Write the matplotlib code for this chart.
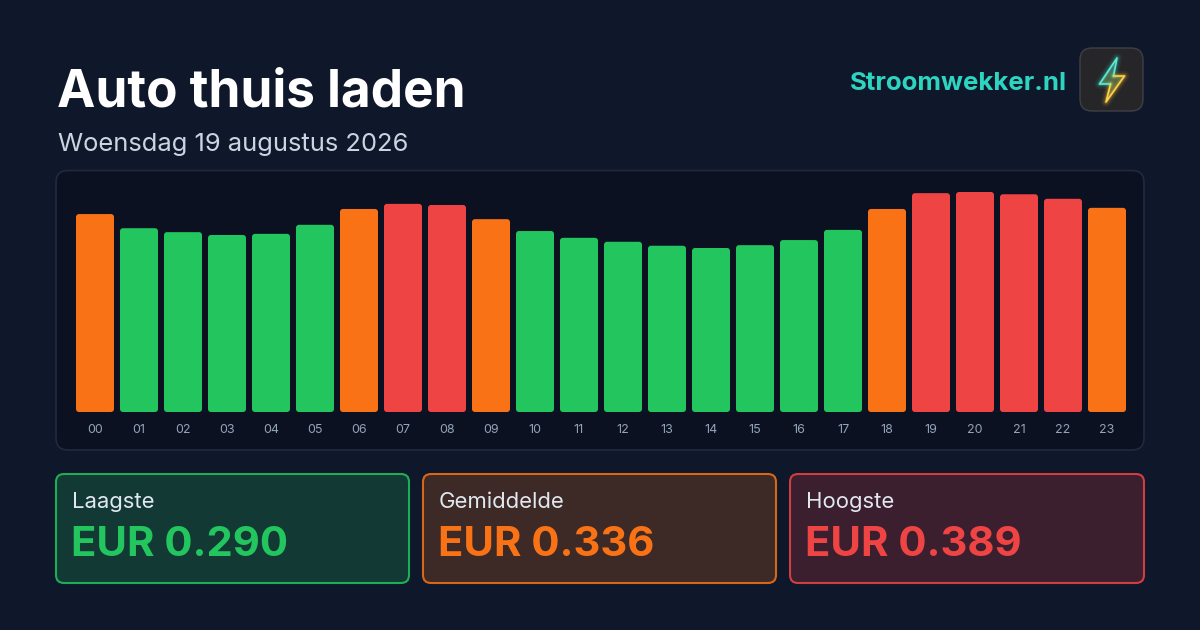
import matplotlib
matplotlib.use("Agg")
import matplotlib.pyplot as plt
from matplotlib.patches import FancyBboxPatch, Polygon
import numpy as np

# ---------------- data ----------------
hours = ["00", "01", "02", "03", "04", "05", "06", "07", "08", "09", "10", "11",
         "12", "13", "14", "15", "16", "17", "18", "19", "20", "21", "22", "23"]
prices = [0.350, 0.325, 0.318, 0.313, 0.315, 0.331, 0.359, 0.368, 0.366, 0.341,
          0.320, 0.308, 0.301, 0.294, 0.290, 0.295, 0.304, 0.322, 0.359, 0.387,
          0.389, 0.385, 0.377, 0.361]
levels = ["mid", "low", "low", "low", "low", "low", "mid", "high", "high", "mid",
          "low", "low", "low", "low", "low", "low", "low", "low", "mid", "high",
          "high", "high", "high", "mid"]
title = "Auto thuis laden"
subtitle = "Woensdag 19 augustus 2026"
brand = "Stroomwekker.nl"
stat_labels = ["Laagste", "Gemiddelde", "Hoogste"]
stat_values = ["EUR 0.290", "EUR 0.336", "EUR 0.389"]

# ---------------- style ----------------
BG = "#0f172a"
PANEL = "#0b1121"
PANEL_EDGE = "#1e293b"
COL = {"low": "#22c55e", "mid": "#f97316", "high": "#ef4444"}
STAT_COLS = [COL["low"], COL["mid"], COL["high"]]
FONT = ["Inter", "DejaVu Sans"]
plt.rcParams["font.family"] = FONT

W, H = 1200, 630
fig = plt.figure(figsize=(W / 100, H / 100), dpi=100, facecolor=BG)

# overlay axes in pixel coordinates
ov = fig.add_axes([0, 0, 1, 1])
ov.set_xlim(0, W)
ov.set_ylim(H, 0)
ov.axis("off")
ov.set_facecolor(BG)

def rbox(x0, y0, x1, y1, r, fc, ec, lw=1.0, z=1, alpha=1.0):
    p = FancyBboxPatch((x0 + r, y0 + r), (x1 - x0) - 2 * r, (y1 - y0) - 2 * r,
                       boxstyle=f"round,pad={r},rounding_size={r}",
                       fc=fc, ec=ec, lw=lw, zorder=z, alpha=alpha)
    ov.add_patch(p)
    return p

# title / subtitle
ov.text(57, 106.7, title, fontsize=37, fontweight="bold", color="white",
        va="baseline", ha="left")
ov.text(57.5, 150.7, subtitle, fontsize=18.4, color="#cbd5e1",
        va="baseline", ha="left")

# brand
ov.text(1067, 90.5, brand, fontsize=18.6, fontweight="bold", color="#2dd4bf",
        va="baseline", ha="right")
rbox(1080, 48, 1143, 111, 12, "#262629", "#3f3f46", lw=1.0, z=2)

# lightning bolt
bolt = np.array([[1117, 58], [1099.5, 84], [1110.5, 84], [1106, 102],
                 [1124.5, 76], [1113.5, 76]])
grad = np.linspace(0, 1, 100)[:, None]
teal = np.array([45, 212, 191]) / 255
amber = np.array([251, 191, 36]) / 255
img = teal[None, None, :] * (1 - grad[:, :, None]) + amber[None, None, :] * grad[:, :, None]
img = np.repeat(img, 2, axis=1)
upper = bolt[[5, 0, 1, 2]]
lower = bolt[[2, 3, 4, 5]]
for lw, a in [(7, 0.07), (4.5, 0.13), (2.6, 0.25)]:
    for seg_pts, c in [(upper, teal), (lower, amber)]:
        ov.plot(seg_pts[:, 0], seg_pts[:, 1], color=c, lw=lw, alpha=a,
                solid_joinstyle="round", solid_capstyle="round", zorder=3)
poly = Polygon(bolt, closed=True, fc="none", ec="none", zorder=3)
ov.add_patch(poly)
im = ov.imshow(img, extent=(1099, 1125, 102, 58), aspect="auto", zorder=3, alpha=0.35)
im.set_clip_path(poly)
ov.plot(upper[:, 0], upper[:, 1], color="#5eead4", lw=1.2, zorder=4,
        solid_joinstyle="round", solid_capstyle="round")
ov.plot(lower[:, 0], lower[:, 1], color="#fcd34d", lw=1.2, zorder=4,
        solid_joinstyle="round", solid_capstyle="round")

# chart panel
rbox(56, 170.5, 1144, 450, 12, PANEL, PANEL_EDGE, lw=1.3, z=1)

# stat boxes
box_x = [(56, 409), (423, 776), (790, 1144)]
for (x0, x1), lab, val, c in zip(box_x, stat_labels, stat_values, STAT_COLS):
    rbox(x0, 474, x1, 583, 8, c, "none", z=1, alpha=0.2)
    rbox(x0, 474, x1, 583, 8, "none", c, lw=1.5, z=2, alpha=0.85)
    ov.text(x0 + 16, 507.5, lab, fontsize=15.9, color="#e2e8f0", va="baseline", ha="left")
    ov.text(x0 + 15, 556.5, val, fontsize=30.1, fontweight="bold", color=c,
            va="baseline", ha="left")

# ---------------- bar chart ----------------
L, R = 73, 1129
base_y, top_y = 412, 192
ymax = max(prices)
ax = fig.add_axes([L / W, 1 - base_y / H, (R - L) / W, (base_y - top_y) / H])
ax.set_facecolor("none")
ax.set_xlim(-0.5, len(hours) - 0.5)
ax.set_ylim(0, ymax)
ax.axis("off")

x = np.arange(len(hours))
bw = 38 / 44
bars = ax.bar(x, prices, width=bw, color=[COL[l] for l in levels])
xu = (len(hours)) / (R - L)            # data units per px (x)
yu = ymax / (base_y - top_y)           # data units per px (y)
r_px = 3
for b in bars:
    b.set_visible(False)
    x0, y0 = b.get_x(), b.get_y()
    w, h = b.get_width(), b.get_height()
    rx = r_px * xu
    asp = yu / xu
    p = FancyBboxPatch((x0 + rx, y0 + rx * asp), w - 2 * rx, h - 2 * rx * asp,
                       boxstyle=f"round,pad={rx},rounding_size={rx}",
                       mutation_aspect=asp, fc=b.get_facecolor(), ec="none",
                       clip_on=False)
    ax.add_patch(p)
ax.axhline(0, color="#1e293b", lw=1.0, zorder=0)

for xi, hl in zip(x, hours):
    ax.text(xi, -18 * yu, hl, fontsize=9, color="#94a3b8", ha="center", va="center",
            clip_on=False)

fig.savefig("out.png", dpi=100, facecolor=BG)
